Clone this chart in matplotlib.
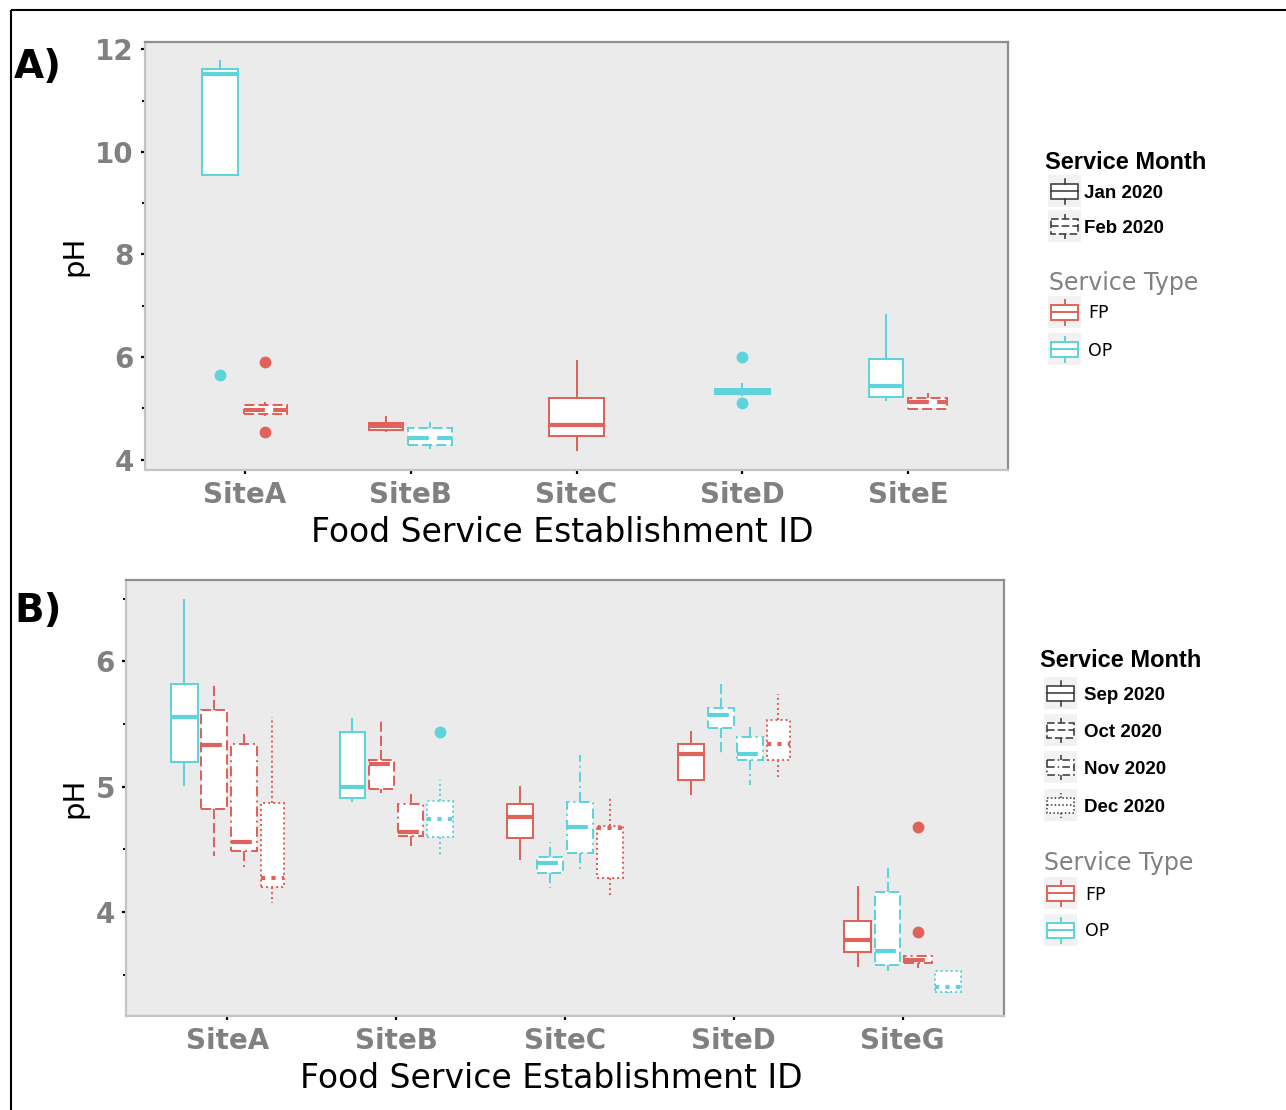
import matplotlib
matplotlib.use("Agg")
import matplotlib.pyplot as plt
from matplotlib.patches import Rectangle

# ---- data: panel A (Jan/Feb 2020) ----
a_sites = ["SiteA", "SiteB", "SiteC", "SiteD", "SiteE"]
a_site = ["SiteA", "SiteA", "SiteB", "SiteB", "SiteC", "SiteD", "SiteE", "SiteE"]
a_month = ["Jan 2020", "Feb 2020", "Jan 2020", "Feb 2020", "Jan 2020", "Jan 2020", "Jan 2020", "Feb 2020"]
a_type = ["OP", "FP", "FP", "OP", "FP", "OP", "OP", "FP"]
a_lo = [9.55, 4.86, 4.56, 4.20, 4.18, 5.27, 5.17, 4.97]
a_q1 = [9.55, 4.89, 4.57, 4.28, 4.47, 5.29, 5.23, 4.98]
a_med = [11.52, 4.96, 4.65, 4.43, 4.67, 5.33, 5.44, 5.13]
a_q3 = [11.61, 5.07, 4.72, 4.62, 5.20, 5.37, 5.96, 5.20]
a_hi = [11.77, 5.12, 4.83, 4.73, 5.93, 5.48, 6.83, 5.31]
a_out = [[5.65], [5.90, 4.55], [], [], [], [6.00, 5.10], [], []]

# ---- data: panel B (Sep-Dec 2020) ----
b_sites = ["SiteA", "SiteB", "SiteC", "SiteD", "SiteG"]
b_site = [s for s in b_sites for _ in range(4)]
b_month = ["Sep 2020", "Oct 2020", "Nov 2020", "Dec 2020"] * 5
b_type = ["OP", "FP", "FP", "FP",
          "OP", "FP", "FP", "OP",
          "FP", "OP", "OP", "FP",
          "FP", "OP", "OP", "FP",
          "FP", "OP", "FP", "OP"]
b_lo = [5.01, 4.45, 4.36, 4.07,
        4.89, 4.95, 4.53, 4.44,
        4.42, 4.19, 4.34, 4.11,
        4.94, 5.25, 5.01, 5.06,
        3.57, 3.53, 3.55, 3.35]
b_q1 = [5.20, 4.82, 4.49, 4.20,
        4.91, 4.98, 4.61, 4.60,
        4.59, 4.31, 4.47, 4.27,
        5.05, 5.47, 5.21, 5.21,
        3.68, 3.58, 3.59, 3.36]
b_med = [5.56, 5.33, 4.56, 4.27,
         5.00, 5.18, 4.64, 4.74,
         4.76, 4.39, 4.68, 4.67,
         5.26, 5.57, 5.26, 5.34,
         3.78, 3.69, 3.62, 3.40]
b_q3 = [5.82, 5.61, 5.34, 4.87,
        5.44, 5.21, 4.86, 4.89,
        4.86, 4.44, 4.88, 4.69,
        5.34, 5.63, 5.40, 5.53,
        3.93, 4.16, 3.65, 3.53]
b_hi = [6.49, 5.81, 5.43, 5.56,
        5.54, 5.55, 4.95, 5.05,
        5.00, 4.56, 5.25, 4.91,
        5.44, 5.82, 5.49, 5.74,
        4.20, 4.37, 3.66, 3.53]
b_out = [[], [], [], [],
         [], [], [], [5.44],
         [], [], [], [],
         [], [], [], [],
         [], [], [4.68, 3.84], []]

# ---- layout / style ----
a_width = [0.215, 0.26, 0.2, 0.26, 0.33, 0.33, 0.2, 0.235]
b_width = [0.157, 0.155, 0.152, 0.136,
           0.152, 0.148, 0.152, 0.152,
           0.158, 0.152, 0.158, 0.156,
           0.158, 0.150, 0.152, 0.138,
           0.160, 0.152, 0.163, 0.154]

type_colors = {"FP": "#E0635B", "OP": "#5DD3DB"}
month_ls = {
    "Jan 2020": "solid", "Feb 2020": (0, (5, 2)),
    "Sep 2020": "solid", "Oct 2020": (0, (5, 2)),
    "Nov 2020": (0, (5, 2, 1, 2)), "Dec 2020": (0, (1, 1.5)),
}
GRAY = "#808080"
W, H = 1286, 1110

plt.rcParams["font.family"] = "DejaVu Sans"
fig = plt.figure(figsize=(W / 100, H / 100), dpi=100)


def dodge(sites, site, width, gap):
    pos = [0.0] * len(site)
    for k, s in enumerate(sites):
        idx = [i for i in range(len(site)) if site[i] == s]
        total = sum(width[i] for i in idx) + gap * (len(idx) - 1)
        x = k + 1 - total / 2
        for i in idx:
            pos[i] = x + width[i] / 2
            x += width[i] + gap
    return pos


def draw_panel(ax, sites, site, month, typ, lo, q1, med, q3, hi, out, width, gap):
    pos = dodge(sites, site, width, gap)
    for i in range(len(site)):
        c = type_colors[typ[i]]
        ls = month_ls[month[i]]
        stats = [dict(whislo=lo[i], q1=q1[i], med=med[i], q3=q3[i], whishi=hi[i], fliers=out[i])]
        ax.bxp(stats, positions=[pos[i]], widths=[width[i]], patch_artist=True,
               showcaps=False, manage_ticks=False,
               boxprops=dict(facecolor="white", edgecolor=c, linewidth=1.45, linestyle=ls),
               whiskerprops=dict(color=c, linewidth=1.45, linestyle=ls),
               medianprops=dict(color=c, linewidth=3.0, linestyle=ls, solid_capstyle="butt"),
               flierprops=dict(marker="o", markerfacecolor=c, markeredgecolor=c, markersize=7.5))
    ax.set_facecolor("#EBEBEB")
    ax.set_xlim(0.4, 5.6)
    ax.set_xticks(range(1, len(sites) + 1))
    ax.set_xticklabels(sites)
    ax.set_xlabel("Food Service Establishment ID", fontsize=23.8, labelpad=5)
    ax.xaxis.label.set_x(0.484)
    ax.set_ylabel("pH", fontsize=21)
    ax.tick_params(axis="both", which="major", length=3, width=1.6, color="black",
                   labelsize=20, labelcolor=GRAY, pad=5)
    ax.tick_params(axis="y", which="minor", length=2, width=1.4, color="black")
    for lbl in ax.get_xticklabels() + ax.get_yticklabels():
        lbl.set_fontweight("bold")
    for side in ["top", "right"]:
        ax.spines[side].set_color("#8f8f8f")
        ax.spines[side].set_linewidth(1.6)
    for side in ["left", "bottom"]:
        ax.spines[side].set_color("#c4c4c4")
        ax.spines[side].set_linewidth(1.6)


# Panel A
axA = fig.add_axes([145 / W, 1 - 470 / H, 863 / W, 428 / H])
draw_panel(axA, a_sites, a_site, a_month, a_type, a_lo, a_q1, a_med, a_q3, a_hi, a_out, a_width, 0.035)
axA.set_ylim(3.8, 12.14)
axA.set_yticks([4, 6, 8, 10, 12])
axA.set_yticks([5, 7, 9, 11], minor=True)
axA.yaxis.set_label_coords((88 - 145) / 863, 0.5)

# Panel B
axB = fig.add_axes([126 / W, 1 - 1016 / H, 878 / W, 436 / H])
draw_panel(axB, b_sites, b_site, b_month, b_type, b_lo, b_q1, b_med, b_q3, b_hi, b_out, b_width, 0.022)
axB.set_ylim(3.17, 6.65)
axB.set_yticks([4, 5, 6])
axB.set_yticks([3.5, 4.5, 5.5, 6.5], minor=True)
axB.yaxis.set_label_coords((88 - 126) / 878, 0.5)
for lbl in axA.get_yticklabels() + axB.get_yticklabels():
    lbl.set_fontweight("bold")

# overlay in pixel coordinates for legends, panel tags and frame
ov = fig.add_axes([0, 0, 1, 1], zorder=10)
ov.set_xlim(0, W)
ov.set_ylim(H, 0)
ov.axis("off")

ov.plot([11, 11], [H + 5, 10], color="black", lw=1.5, solid_capstyle="butt")
ov.plot([11, W], [10, 10], color="black", lw=1.5, solid_capstyle="butt")

ov.text(14, 78, "A)", fontsize=28, fontweight="bold", va="baseline")
ov.text(14, 622, "B)", fontsize=28, fontweight="bold", va="baseline")


def draw_key(cx, cy, color, ls, lw):
    ov.add_patch(Rectangle((cx - 16.5, cy - 16), 33, 32, facecolor="#F2F2F2", edgecolor="none"))
    ov.add_patch(Rectangle((cx - 13.5, cy - 7.5), 27, 15, facecolor="white", edgecolor=color,
                           linewidth=lw, linestyle=ls))
    ov.plot([cx - 13.5, cx + 13.5], [cy, cy], color=color, lw=lw, linestyle=ls)
    ov.plot([cx, cx], [cy - 7.5, cy - 12.5], color=color, lw=lw, linestyle=ls)
    ov.plot([cx, cx], [cy + 7.5, cy + 12.5], color=color, lw=lw, linestyle=ls)


def draw_legend(x0, title_y, months, month_y, type_title_y, type_y, key_x, text_x, type_text_x):
    ov.text(x0, title_y, "Service Month", fontsize=17, fontweight="bold",
            family="Liberation Sans", va="baseline")
    for m, y in zip(months, month_y):
        draw_key(key_x, y, "#333333", month_ls[m], 1.1)
        ov.text(text_x, y + 7, m, fontsize=13.5, fontweight="bold",
                family="Liberation Sans", va="baseline")
    ov.text(x0 + 4, type_title_y, "Service Type", fontsize=17, color=GRAY, va="baseline")
    for t, y in zip(["FP", "OP"], type_y):
        draw_key(key_x, y, type_colors[t], "solid", 1.4)
        ov.text(type_text_x, y + 6.5, t, fontsize=12.5, va="baseline")


draw_legend(1045, 169, ["Jan 2020", "Feb 2020"], [191, 226], 290, [312, 349], 1064.5, 1084, 1088)
draw_legend(1040, 667, ["Sep 2020", "Oct 2020", "Nov 2020", "Dec 2020"], [693, 730, 767, 805],
            870, [893, 930], 1060.5, 1084, 1085)

fig.savefig("out.png", dpi=100)
